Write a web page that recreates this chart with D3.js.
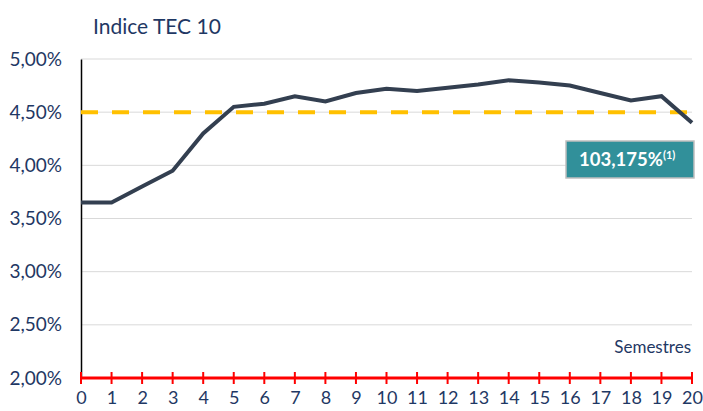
<!DOCTYPE html>
<html>
<head>
<meta charset="utf-8">
<script src="https://cdn.jsdelivr.net/npm/d3@7"></script>
<style>
  body { margin: 0; background: #fff; }
  text { font-family: Lato, "Open Sans", sans-serif; }
</style>
</head>
<body>
<div id="chart"></div>
<script>
// data
const semestres = d3.range(0, 21);
const tec10 = [3.65, 3.65, 3.80, 3.95, 4.30, 4.55, 4.58, 4.65, 4.60, 4.68, 4.72,
               4.70, 4.73, 4.76, 4.80, 4.78, 4.75, 4.68, 4.61, 4.65, 4.40];
const seuil = 4.50;
const yTicks = [2.0, 2.5, 3.0, 3.5, 4.0, 4.5, 5.0];
const titre = 'Indice TEC 10';
const etiquette = '103,175%';

const W = 703, H = 411;
const margin = { top: 59, right: 11, bottom: 33, left: 81 };
const w = W - margin.left - margin.right;
const h = H - margin.top - margin.bottom;

const svg = d3.select('#chart').append('svg')
  .attr('width', W).attr('height', H);

svg.append('text')
  .attr('x', 93).attr('y', 34)
  .attr('fill', '#1F3864').attr('font-size', 21)
  .text(titre);

const g = svg.append('g').attr('transform', `translate(${margin.left},${margin.top})`);

const x = d3.scaleLinear().domain([0, 20]).range([0, w]);
const y = d3.scaleLinear().domain([2, 5]).range([h, 0]);

// gridlines
g.selectAll('.grid').data(yTicks.slice(1)).enter().append('line')
  .attr('x1', 0).attr('x2', w)
  .attr('y1', d => y(d)).attr('y2', d => y(d))
  .attr('stroke', '#d9d9d9').attr('stroke-width', 1);

// y axis
const yAxis = g.append('g')
  .call(d3.axisLeft(y).tickValues(yTicks).tickSize(0).tickPadding(19)
    .tickFormat(d => d.toFixed(2).replace('.', ',') + '%'));
yAxis.select('.domain').attr('stroke', '#000').attr('stroke-width', 1.5);
yAxis.selectAll('text').attr('fill', '#1F3864').attr('font-size', 19)
  .attr('font-family', 'Lato, sans-serif');

// x axis
const xAxis = g.append('g').attr('transform', `translate(0,${h})`)
  .call(d3.axisBottom(x).tickValues(semestres).tickSize(0).tickPadding(13).tickFormat(d3.format('d')));
xAxis.select('.domain').remove();
xAxis.selectAll('text').attr('fill', '#1F3864').attr('font-size', 18)
  .attr('font-family', 'Lato, sans-serif');
g.append('line').attr('x1', 0).attr('x2', w).attr('y1', h).attr('y2', h)
  .attr('stroke', '#FF0000').attr('stroke-width', 3);
g.selectAll('.xt').data(semestres).enter().append('line')
  .attr('x1', d => x(d)).attr('x2', d => x(d))
  .attr('y1', h - 6).attr('y2', h + 6)
  .attr('stroke', '#FF0000').attr('stroke-width', 2);

g.append('text')
  .attr('x', w - 1).attr('y', h - 25)
  .attr('text-anchor', 'end')
  .attr('fill', '#1F3864').attr('font-size', 17)
  .text('Semestres');

// threshold dashed line
g.append('line')
  .attr('x1', x(0)).attr('x2', x(20))
  .attr('y1', y(seuil)).attr('y2', y(seuil))
  .attr('stroke', '#FFC000').attr('stroke-width', 4)
  .attr('stroke-dasharray', '17 14').attr('stroke-linecap', 'butt');

// TEC 10 line
g.append('path').datum(tec10)
  .attr('fill', 'none').attr('stroke', '#333F50').attr('stroke-width', 4)
  .attr('stroke-linejoin', 'miter')
  .attr('d', d3.line().x((d, i) => x(semestres[i])).y(d => y(d)));

// label box
const box = svg.append('g').attr('transform', 'translate(566,141)');
box.append('rect').attr('width', 128).attr('height', 37)
  .attr('fill', '#31909A').attr('stroke', '#bfbfbf').attr('stroke-width', 1.5);
const t = box.append('text').attr('x', 13).attr('y', 25)
  .attr('fill', '#fff').attr('font-size', 18.5).attr('font-weight', 'bold');
t.append('tspan').text(etiquette);
t.append('tspan').attr('font-size', 11).attr('dy', -7).text('(1)');
</script>
</body>
</html>
